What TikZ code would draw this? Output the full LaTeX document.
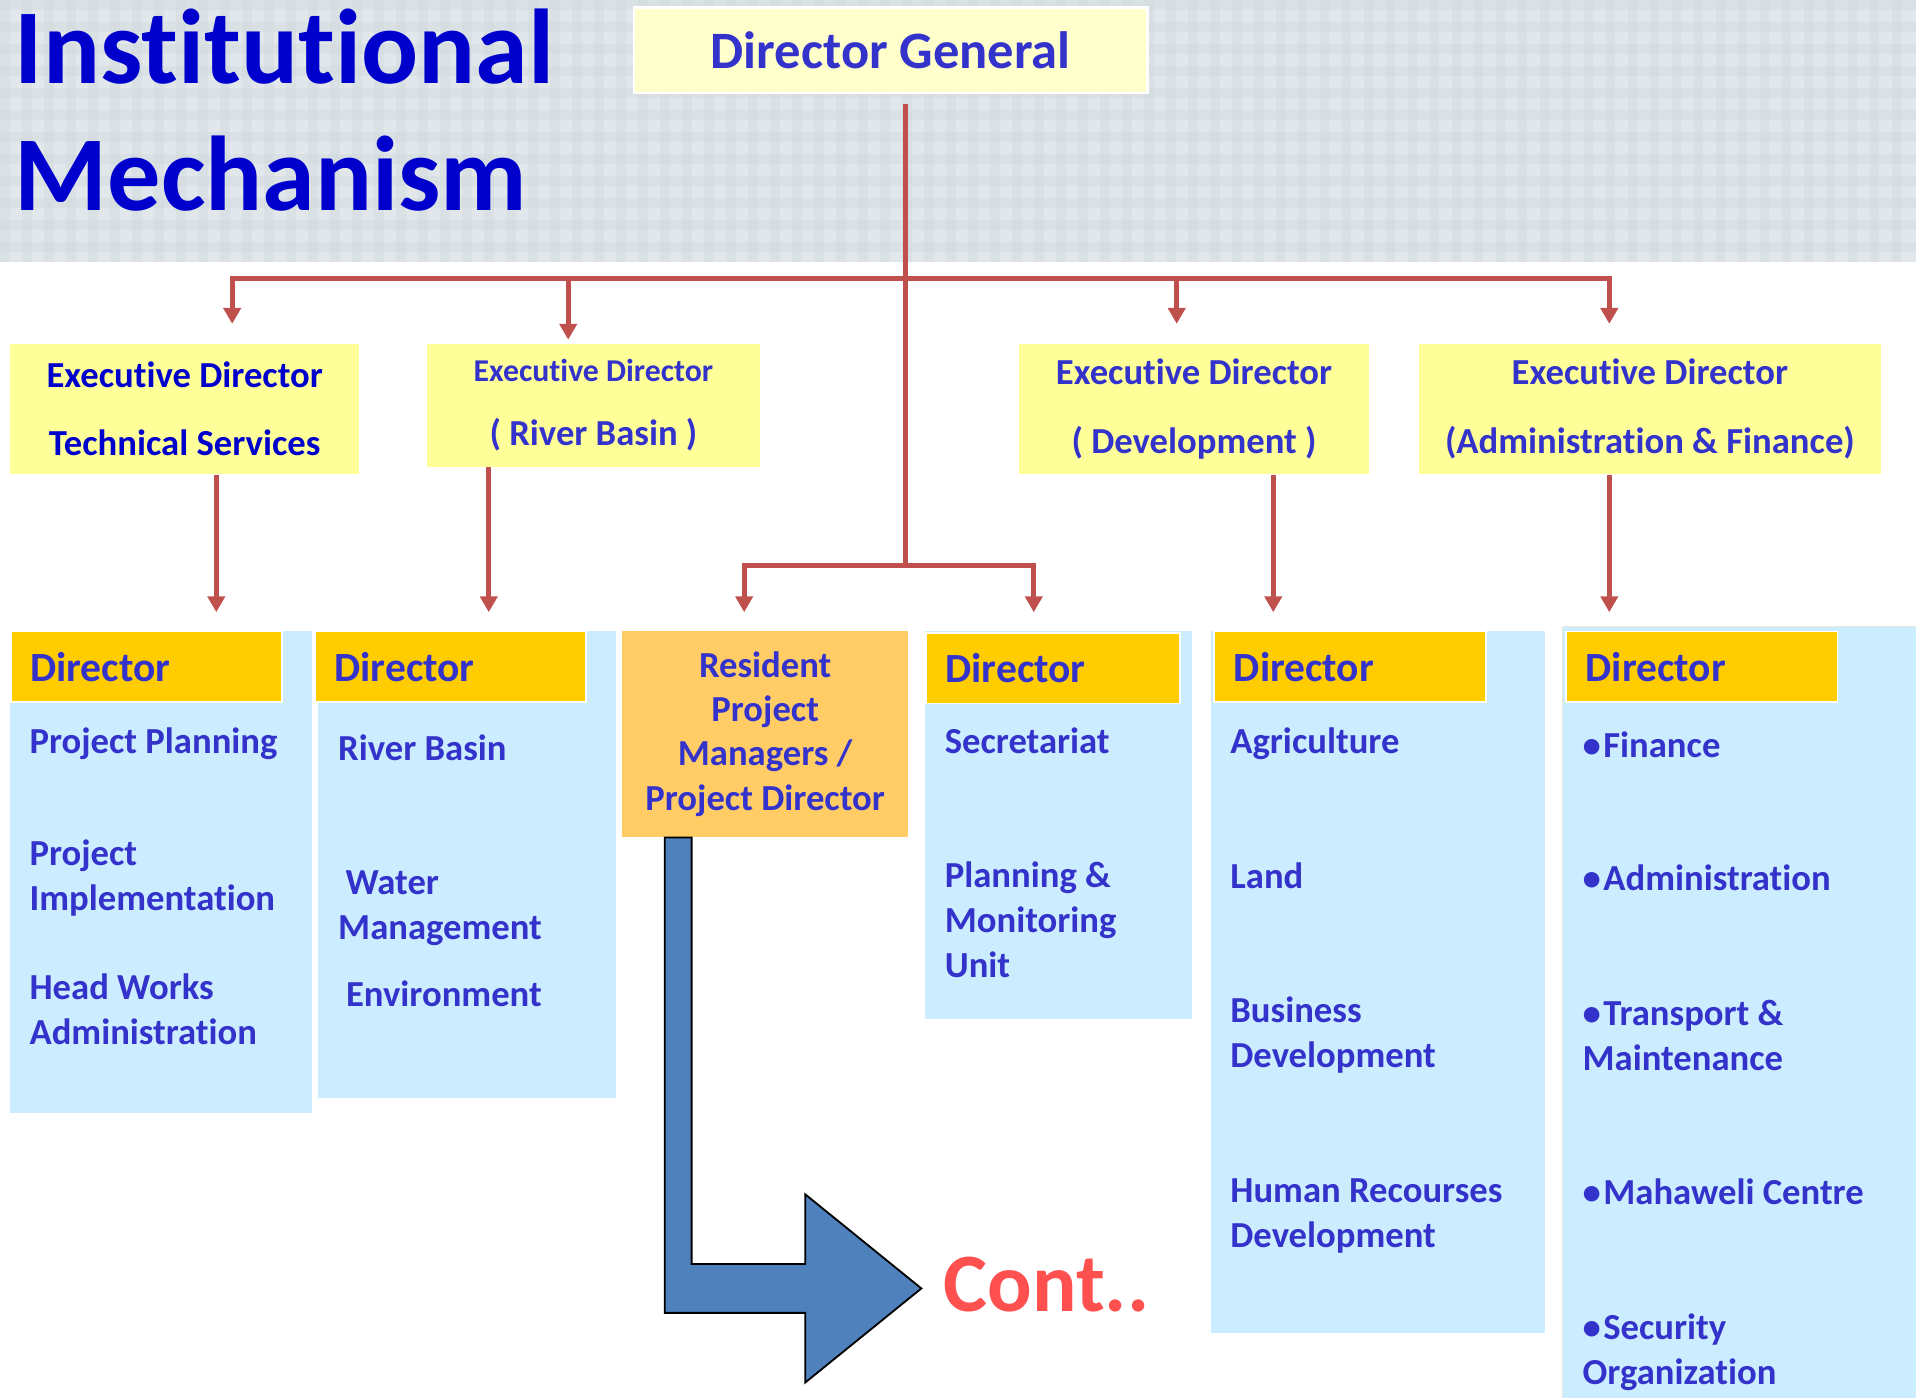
\documentclass[tikz,border=0pt]{standalone}
\usepackage{fontspec}
\setmainfont{Carlito}[Ligatures={NoCommon}]
\usepackage{tikz}
\usetikzlibrary{arrows.meta}
\definecolor{titleblue}{HTML}{0000CC}
\definecolor{txtblue}{HTML}{3333CC}
\definecolor{linkred}{HTML}{C0504D}
\definecolor{edyellow}{HTML}{FFFF99}
\definecolor{dgyellow}{HTML}{FFFFCC}
\definecolor{hdorange}{HTML}{FFCC00}
\definecolor{rpmorange}{HTML}{FFCC66}
\definecolor{colblue}{HTML}{CCECFF}
\definecolor{arrblue}{HTML}{4F81BD}
\definecolor{contred}{HTML}{FF5050}
\definecolor{bandgray}{HTML}{E1E7EA}
\definecolor{stripe}{HTML}{CDD6DB}
\newcommand{\bul}{•\kern2pt}
\tikzset{it/.style={anchor=base west,inner sep=0pt,align=left,text=txtblue,font=\fontsize{30}{37}\selectfont\bfseries}}
\tikzset{hdbox/.style={anchor=north west,fill=hdorange,draw=white,line width=1.5pt,minimum height=58pt,inner xsep=16pt,inner ysep=0pt,text width=#1,align=left,text=txtblue,font=\fontsize{34}{40}\selectfont\bfseries},hdbox/.default=190pt}
\tikzset{colbox/.style={anchor=north west,fill=colblue,inner sep=0pt}}
\tikzset{edbox/.style={anchor=north west,fill=edyellow,inner sep=0pt,align=center,text=txtblue,font=\fontsize{30}{56}\selectfont\bfseries}}
\tikzset{conn/.style={draw=linkred,line width=4pt}}
\tikzset{arr/.style={conn,-{Triangle[width=14pt,length=13pt]}}}

\begin{document}
\begin{tikzpicture}[x=1pt,y=-1pt]
        \useasboundingbox (0,0) rectangle (1568,1144);
        \fill[bandgray] (0,0) rectangle (1568,214);
        \foreach \x in {0,18,...,1560} \fill[stripe,opacity=0.3] (\x,0) rectangle ++(8,214);
        \foreach \y in {0,18,...,200} \fill[stripe,opacity=0.3] (0,\y) rectangle ++(1568,8);
        % multi-line nodes sit on their last baseline
        \node[anchor=base west,inner sep=0pt,align=left,text=titleblue,font=\fontsize{87}{104}\selectfont\bfseries] (T) at (12,172) {Institutional\\Mechanism};
        \node[anchor=north west,fill=dgyellow,draw=white,line width=2pt,minimum width=420pt,minimum height=70pt,text=txtblue,font=\fontsize{43}{50}\selectfont\bfseries] (DG) at (518,5) {Director General};
        \node[edbox,minimum width=286pt,minimum height=107pt,text=titleblue] (E1) at (8,281) {Executive Director\\Technical Services};
        \node[edbox,minimum width=273pt,minimum height=101pt,font=\fontsize{30}{52}\selectfont\bfseries] (E2) at (349,281) {{\fontsize{26}{52}\selectfont Executive Director}\\( River Basin )};
        \node[edbox,minimum width=286pt,minimum height=107pt] (E3) at (834,281) {Executive Director\\( Development )};
        \node[edbox,minimum width=378pt,minimum height=107pt] (E4) at (1161,281) {Executive Director\\(Administration \& Finance)};
        % director columns
        \node[colbox,minimum width=247pt,minimum height=395pt] (C1) at (8,516) {};
        \node[colbox,minimum width=244pt,minimum height=382pt] (C2) at (260,516) {};
        \node[colbox,minimum width=218pt,minimum height=318pt] (C4) at (757,516) {};
        \node[colbox,minimum width=273pt,minimum height=575pt] (C5) at (991,516) {};
        \node[colbox,minimum width=290pt,minimum height=634pt,draw={rgb,255:red,232;green,232;blue,218},line width=1.5pt] (C6) at (1278,512) {};
        \node[hdbox,minimum width=222pt] (H1) at (8,516) {Director};
        \node[hdbox,minimum width=221pt] (H2) at (257,516) {Director};
        \node[hdbox=176pt,minimum width=208pt] (H4) at (757,517) {Director};
        \node[hdbox,minimum width=221pt] (H5) at (993,516) {Director};
        \node[hdbox,minimum width=221pt] (H6) at (1281,516) {Director};
        \node[anchor=north west,fill=rpmorange,inner sep=0pt,minimum width=234pt,minimum height=169pt,align=center,text=txtblue,font=\fontsize{30}{36.3}\selectfont\bfseries] (R) at (509,516) {Resident\\Project\\Managers /\\Project Director};
        \node[it] (P1) at (24,617) {Project Planning};
        \node[it] (P2) at (24,745) {Project\\Implementation};
        \node[it] (P3) at (24,855) {Head Works\\Administration};
        \node[it] (W1) at (276.6,622) {River Basin};
        \node[it] (W2) at (276.6,769) {\hspace*{6pt}Water\\Management};
        \node[it] (W3) at (283,824) {Environment};
        \node[it] (S1) at (773,616.5) {Secretariat};
        \node[it] (S2) at (773,800) {Planning \&\\Monitoring\\Unit};
        \node[it] (A1) at (1006.7,617) {Agriculture};
        \node[it] (A2) at (1006.7,727) {Land};
        \node[it] (A3) at (1006.7,874) {Business\\Development};
        \node[it] (A4) at (1006.7,1021) {Human Recourses\\Development};
        \node[it] (F1) at (1295,620) {\bul Finance};
        \node[it] (F2) at (1295,729) {\bul Administration};
        \node[it] (F3) at (1295,876) {\bul Transport \&\\Maintenance};
        \node[it] (F4) at (1295,986) {\bul Mahaweli Centre};
        \node[it] (F5) at (1295,1133) {\bul Security\\Organization};
        \node[anchor=base west,inner sep=0pt,text=contred,font=\fontsize{68}{70}\selectfont\bfseries] (K) at (772,1073) {Cont..};
        % links
        \coordinate (bus) at (741,228);
        \coordinate (hub) at (741,463);
        \coordinate (t1) at (190,265);
        \coordinate (t2) at (465,278);
        \coordinate (t3) at (963,265);
        \coordinate (t4) at (1317,265);
        \coordinate (d1) at (177,501);
        \coordinate (d2) at (400,501);
        \coordinate (d3) at (609,501);
        \coordinate (d4) at (846,501);
        \coordinate (d5) at (1042,501);
        \coordinate (d6) at (1317,501);
        \draw[conn,shorten <=8pt] (DG.south -| hub) -- (hub);
        \draw[arr] (bus) -| (t1);
        \draw[arr] (bus) -| (t2);
        \draw[arr] (bus) -| (t3);
        \draw[arr] (bus) -| (t4);
        \draw[arr] (E1.south -| d1) -- (d1);
        \draw[arr] (E2.south -| d2) -- (d2);
        \draw[arr] (hub) -| (d3);
        \draw[arr] (hub) -| (d4);
        \draw[arr] (E3.south -| d5) -- (d5);
        \draw[arr] (E4.south -| d6) -- (d6);
        \draw[fill=arrblue,line width=1.5pt] ([xshift=35pt]R.south west) -- ++(22,0) -- ++(0,349) -- ++(93,0) -- ++(0,-57) -- ++(95,77) -- ++(-95,77) -- ++(0,-57) -- ++(-115,0) -- cycle;
\end{tikzpicture}
\end{document}
